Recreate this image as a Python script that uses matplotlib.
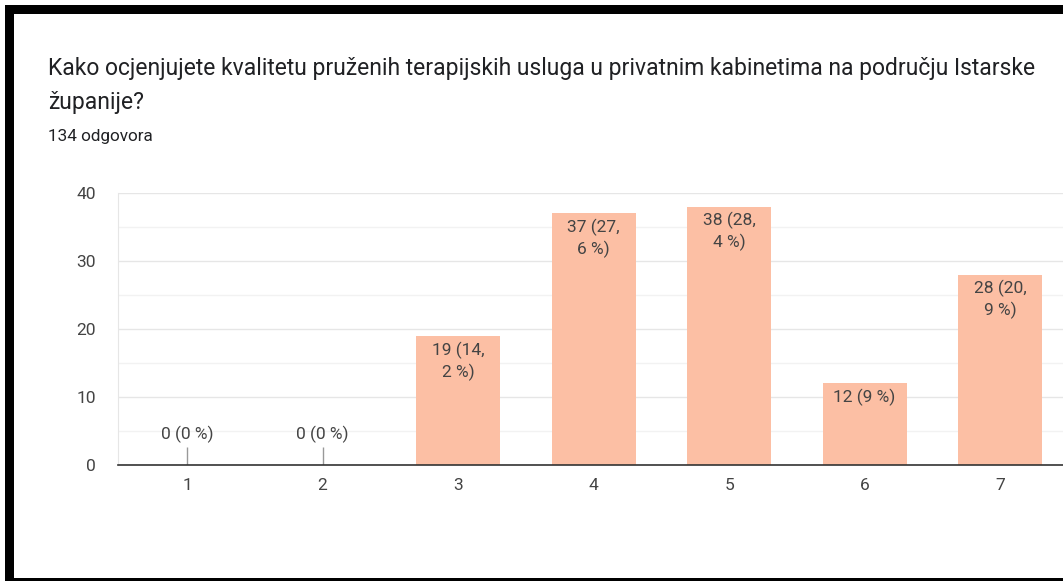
import matplotlib.pyplot as plt
from matplotlib.patches import Rectangle

# answers per rating
ratings = ['1', '2', '3', '4', '5', '6', '7']
counts = [0, 0, 19, 37, 38, 12, 28]
labels = ['0 (0 %)', '0 (0 %)', '19 (14,\n2 %)', '37 (27,\n6 %)',
          '38 (28,\n4 %)', '12 (9 %)', '28 (20,\n9 %)']
y_ticks = [0, 10, 20, 30, 40]

title_lines = ['Kako ocjenjujete kvalitetu pruženih terapijskih usluga u privatnim '
               'kabinetima na području Istarske', 'županije?']
subtitle = '134 odgovora'

plt.rcParams['font.family'] = ['Roboto', 'DejaVu Sans']

W, H = 1063, 581
fig = plt.figure(figsize=(W / 100, H / 100), dpi=100)
fig.patch.set_facecolor('white')

ax = fig.add_axes([118 / W, (H - 465) / H, (W - 118) / W, 272 / H])
pos = list(range(1, len(ratings) + 1))
bar_color = '#fcbfa4'
text_color = '#444444'

ax.bar(pos, counts, width=0.62, color=bar_color, zorder=2)

for p, c, lab in zip(pos, counts, labels):
    if c == 0:
        ax.vlines(p, 0, 2.6, color='#999999', lw=1, zorder=3)
        ax.text(p, 3.3, lab, ha='center', va='bottom', fontsize=12.5,
                color=text_color, zorder=4)
    else:
        ax.annotate(lab, (p, c), xytext=(0, -4), textcoords='offset points',
                    ha='center', va='top', fontsize=12.5, color=text_color,
                    linespacing=1.35, zorder=4)

ax.set_xlim(0.49, 0.49 + (W - 118) / 135.5)
ax.set_ylim(0, 40)
ax.set_xticks(pos)
ax.set_xticklabels(ratings)
ax.set_yticks(y_ticks)
ax.set_yticks([5, 15, 25, 35], minor=True)
ax.tick_params(axis='both', which='both', length=0, labelsize=12.5,
               labelcolor=text_color)
ax.tick_params(axis='x', pad=9)
ax.tick_params(axis='y', pad=16)
ax.grid(axis='y', which='major', color='#e6e6e6', lw=1, zorder=0)
ax.grid(axis='y', which='minor', color='#f2f2f2', lw=1, zorder=0)
for s in ['top', 'right']:
    ax.spines[s].set_visible(False)
ax.spines['left'].set_color('#e6e6e6')
ax.spines['bottom'].set_color('#333333')
ax.spines['bottom'].set_linewidth(1.2)
ax.spines['bottom'].set_zorder(5)

fig.text(48 / W, 1 - 68 / H, title_lines[0], ha='left', va='center',
         fontsize=16.5, color='#202124')
fig.text(48 / W, 1 - 103 / H, title_lines[1], ha='left', va='center',
         fontsize=16.5, color='#202124')
fig.text(48 / W, 1 - 136 / H, subtitle, ha='left', va='center', fontsize=12.3,
         color='#202124')

# black frame of the screenshot
frame = [(5, 5, W - 5, 9), (5, 5, 9, H - 5), (5, H - 3, W - 5, 3)]
for x0, y0, w, h in frame:
    fig.add_artist(Rectangle((x0 / W, 1 - (y0 + h) / H), w / W, h / H,
                             transform=fig.transFigure, color='black', lw=0))

fig.savefig('out.png', dpi=100)
